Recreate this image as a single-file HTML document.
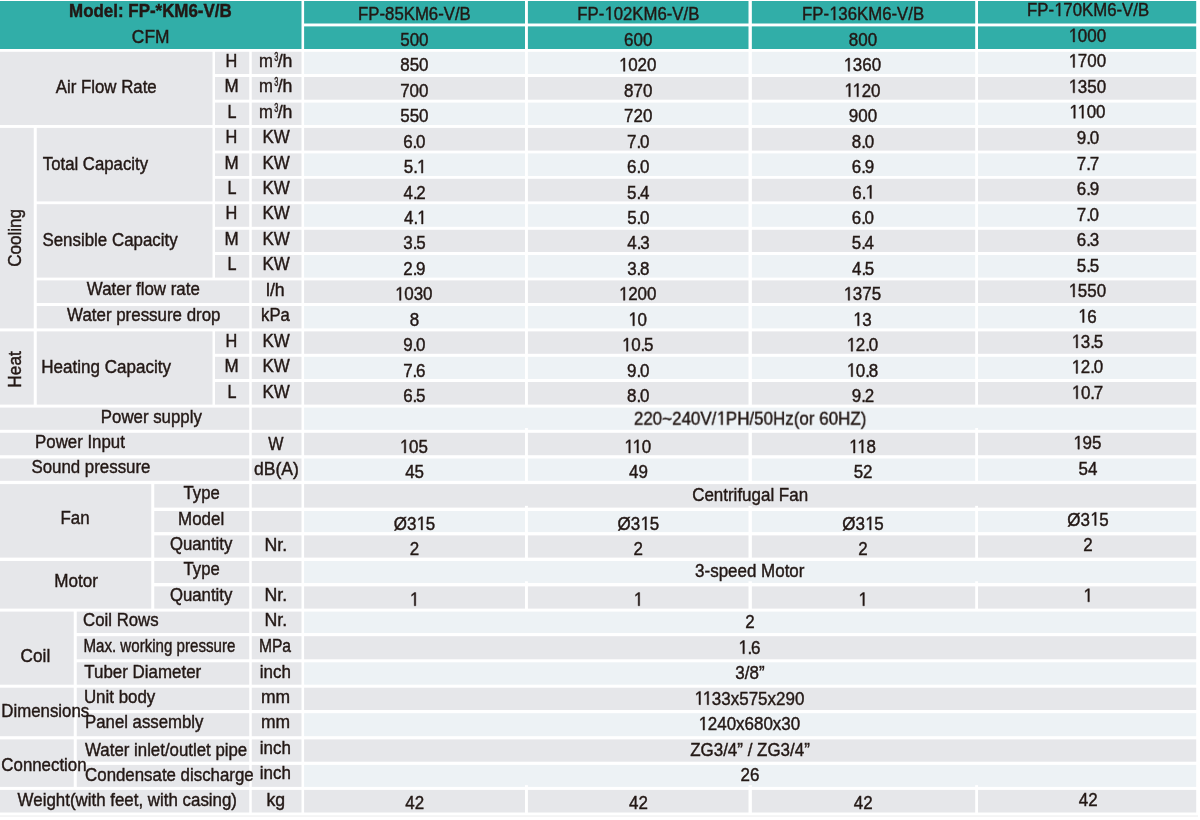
<!DOCTYPE html>
<html lang="en"><head><meta charset="utf-8"><title>FP-*KM6-V/B specifications</title>
<style>
html,body{margin:0;padding:0;background:#fff;}
body{width:1200px;height:820px;overflow:hidden;}
svg{display:block;will-change:transform;}
text{font-family:"Liberation Sans",sans-serif;}
text,path{fill:#231815;stroke:#231815;stroke-width:0.45px;}
.b{font-weight:bold;}
</style></head>
<body>
<svg width="1200" height="820" viewBox="0 0 1200 820">
<rect x="0" y="0" width="1200" height="820" fill="#fff"/>
<g>
<rect x="0.00" y="1.00" width="301.50" height="48.00" fill="#31aea8"/>
<rect x="304.10" y="1.00" width="220.90" height="22.50" fill="#31aea8"/>
<rect x="527.90" y="1.00" width="220.60" height="22.50" fill="#31aea8"/>
<rect x="751.85" y="1.00" width="223.35" height="22.50" fill="#31aea8"/>
<rect x="978.00" y="1.00" width="218.20" height="22.50" fill="#31aea8"/>
<rect x="304.10" y="26.40" width="220.90" height="22.60" fill="#31aea8"/>
<rect x="527.90" y="26.40" width="220.60" height="22.60" fill="#31aea8"/>
<rect x="751.85" y="26.40" width="223.35" height="22.60" fill="#31aea8"/>
<rect x="978.00" y="26.40" width="218.20" height="22.60" fill="#31aea8"/>
<rect x="304.10" y="51.80" width="220.90" height="22.20" fill="#edf2f5"/>
<rect x="527.90" y="51.80" width="220.60" height="22.20" fill="#edf2f5"/>
<rect x="751.85" y="51.80" width="223.35" height="22.20" fill="#edf2f5"/>
<rect x="978.00" y="51.80" width="218.20" height="22.20" fill="#edf2f5"/>
<rect x="251.75" y="51.80" width="49.75" height="22.20" fill="#e6e7ea"/>
<rect x="304.10" y="77.00" width="220.90" height="22.70" fill="#e6e7ea"/>
<rect x="527.90" y="77.00" width="220.60" height="22.70" fill="#e6e7ea"/>
<rect x="751.85" y="77.00" width="223.35" height="22.70" fill="#e6e7ea"/>
<rect x="978.00" y="77.00" width="218.20" height="22.70" fill="#e6e7ea"/>
<rect x="251.75" y="77.00" width="49.75" height="22.70" fill="#e6e7ea"/>
<rect x="304.10" y="102.60" width="220.90" height="22.40" fill="#edf2f5"/>
<rect x="527.90" y="102.60" width="220.60" height="22.40" fill="#edf2f5"/>
<rect x="751.85" y="102.60" width="223.35" height="22.40" fill="#edf2f5"/>
<rect x="978.00" y="102.60" width="218.20" height="22.40" fill="#edf2f5"/>
<rect x="251.75" y="102.60" width="49.75" height="22.40" fill="#e6e7ea"/>
<rect x="304.10" y="127.90" width="220.90" height="22.70" fill="#e6e7ea"/>
<rect x="527.90" y="127.90" width="220.60" height="22.70" fill="#e6e7ea"/>
<rect x="751.85" y="127.90" width="223.35" height="22.70" fill="#e6e7ea"/>
<rect x="978.00" y="127.90" width="218.20" height="22.70" fill="#e6e7ea"/>
<rect x="251.75" y="127.90" width="49.75" height="22.70" fill="#e6e7ea"/>
<rect x="304.10" y="153.40" width="220.90" height="22.60" fill="#edf2f5"/>
<rect x="527.90" y="153.40" width="220.60" height="22.60" fill="#edf2f5"/>
<rect x="751.85" y="153.40" width="223.35" height="22.60" fill="#edf2f5"/>
<rect x="978.00" y="153.40" width="218.20" height="22.60" fill="#edf2f5"/>
<rect x="251.75" y="153.40" width="49.75" height="22.60" fill="#e6e7ea"/>
<rect x="304.10" y="178.80" width="220.90" height="22.60" fill="#e6e7ea"/>
<rect x="527.90" y="178.80" width="220.60" height="22.60" fill="#e6e7ea"/>
<rect x="751.85" y="178.80" width="223.35" height="22.60" fill="#e6e7ea"/>
<rect x="978.00" y="178.80" width="218.20" height="22.60" fill="#e6e7ea"/>
<rect x="251.75" y="178.80" width="49.75" height="22.60" fill="#e6e7ea"/>
<rect x="304.10" y="204.20" width="220.90" height="22.60" fill="#edf2f5"/>
<rect x="527.90" y="204.20" width="220.60" height="22.60" fill="#edf2f5"/>
<rect x="751.85" y="204.20" width="223.35" height="22.60" fill="#edf2f5"/>
<rect x="978.00" y="204.20" width="218.20" height="22.60" fill="#edf2f5"/>
<rect x="251.75" y="204.20" width="49.75" height="22.60" fill="#e6e7ea"/>
<rect x="304.10" y="229.80" width="220.90" height="22.20" fill="#e6e7ea"/>
<rect x="527.90" y="229.80" width="220.60" height="22.20" fill="#e6e7ea"/>
<rect x="751.85" y="229.80" width="223.35" height="22.20" fill="#e6e7ea"/>
<rect x="978.00" y="229.80" width="218.20" height="22.20" fill="#e6e7ea"/>
<rect x="251.75" y="229.80" width="49.75" height="22.20" fill="#e6e7ea"/>
<rect x="304.10" y="255.00" width="220.90" height="22.60" fill="#edf2f5"/>
<rect x="527.90" y="255.00" width="220.60" height="22.60" fill="#edf2f5"/>
<rect x="751.85" y="255.00" width="223.35" height="22.60" fill="#edf2f5"/>
<rect x="978.00" y="255.00" width="218.20" height="22.60" fill="#edf2f5"/>
<rect x="251.75" y="255.00" width="49.75" height="22.60" fill="#e6e7ea"/>
<rect x="304.10" y="280.40" width="220.90" height="22.60" fill="#e6e7ea"/>
<rect x="527.90" y="280.40" width="220.60" height="22.60" fill="#e6e7ea"/>
<rect x="751.85" y="280.40" width="223.35" height="22.60" fill="#e6e7ea"/>
<rect x="978.00" y="280.40" width="218.20" height="22.60" fill="#e6e7ea"/>
<rect x="251.75" y="280.40" width="49.75" height="22.60" fill="#e6e7ea"/>
<rect x="304.10" y="306.00" width="220.90" height="22.40" fill="#edf2f5"/>
<rect x="527.90" y="306.00" width="220.60" height="22.40" fill="#edf2f5"/>
<rect x="751.85" y="306.00" width="223.35" height="22.40" fill="#edf2f5"/>
<rect x="978.00" y="306.00" width="218.20" height="22.40" fill="#edf2f5"/>
<rect x="251.75" y="306.00" width="49.75" height="22.40" fill="#e6e7ea"/>
<rect x="304.10" y="331.40" width="220.90" height="22.40" fill="#e6e7ea"/>
<rect x="527.90" y="331.40" width="220.60" height="22.40" fill="#e6e7ea"/>
<rect x="751.85" y="331.40" width="223.35" height="22.40" fill="#e6e7ea"/>
<rect x="978.00" y="331.40" width="218.20" height="22.40" fill="#e6e7ea"/>
<rect x="251.75" y="331.40" width="49.75" height="22.40" fill="#e6e7ea"/>
<rect x="304.10" y="356.80" width="220.90" height="22.20" fill="#edf2f5"/>
<rect x="527.90" y="356.80" width="220.60" height="22.20" fill="#edf2f5"/>
<rect x="751.85" y="356.80" width="223.35" height="22.20" fill="#edf2f5"/>
<rect x="978.00" y="356.80" width="218.20" height="22.20" fill="#edf2f5"/>
<rect x="251.75" y="356.80" width="49.75" height="22.20" fill="#e6e7ea"/>
<rect x="304.10" y="382.00" width="220.90" height="22.60" fill="#e6e7ea"/>
<rect x="527.90" y="382.00" width="220.60" height="22.60" fill="#e6e7ea"/>
<rect x="751.85" y="382.00" width="223.35" height="22.60" fill="#e6e7ea"/>
<rect x="978.00" y="382.00" width="218.20" height="22.60" fill="#e6e7ea"/>
<rect x="251.75" y="382.00" width="49.75" height="22.60" fill="#e6e7ea"/>
<rect x="304.10" y="407.60" width="892.10" height="22.20" fill="#edf2f5"/>
<rect x="251.75" y="407.60" width="49.75" height="22.20" fill="#e6e7ea"/>
<rect x="304.10" y="432.80" width="220.90" height="22.40" fill="#e6e7ea"/>
<rect x="527.90" y="432.80" width="220.60" height="22.40" fill="#e6e7ea"/>
<rect x="751.85" y="432.80" width="223.35" height="22.40" fill="#e6e7ea"/>
<rect x="978.00" y="432.80" width="218.20" height="22.40" fill="#e6e7ea"/>
<rect x="251.75" y="432.80" width="49.75" height="22.40" fill="#e6e7ea"/>
<rect x="304.10" y="458.50" width="220.90" height="22.30" fill="#edf2f5"/>
<rect x="527.90" y="458.50" width="220.60" height="22.30" fill="#edf2f5"/>
<rect x="751.85" y="458.50" width="223.35" height="22.30" fill="#edf2f5"/>
<rect x="978.00" y="458.50" width="218.20" height="22.30" fill="#edf2f5"/>
<rect x="251.75" y="458.50" width="49.75" height="22.30" fill="#e6e7ea"/>
<rect x="304.10" y="484.10" width="892.10" height="23.50" fill="#e6e7ea"/>
<rect x="251.75" y="484.10" width="49.75" height="23.50" fill="#e6e7ea"/>
<rect x="304.10" y="511.00" width="220.90" height="21.10" fill="#edf2f5"/>
<rect x="527.90" y="511.00" width="220.60" height="21.10" fill="#edf2f5"/>
<rect x="751.85" y="511.00" width="223.35" height="21.10" fill="#edf2f5"/>
<rect x="978.00" y="511.00" width="218.20" height="21.10" fill="#edf2f5"/>
<rect x="251.75" y="511.00" width="49.75" height="21.10" fill="#e6e7ea"/>
<rect x="304.10" y="535.40" width="220.90" height="22.20" fill="#e6e7ea"/>
<rect x="527.90" y="535.40" width="220.60" height="22.20" fill="#e6e7ea"/>
<rect x="751.85" y="535.40" width="223.35" height="22.20" fill="#e6e7ea"/>
<rect x="978.00" y="535.40" width="218.20" height="22.20" fill="#e6e7ea"/>
<rect x="251.75" y="535.40" width="49.75" height="22.20" fill="#e6e7ea"/>
<rect x="304.10" y="561.00" width="892.10" height="22.00" fill="#edf2f5"/>
<rect x="251.75" y="561.00" width="49.75" height="22.00" fill="#e6e7ea"/>
<rect x="304.10" y="586.40" width="220.90" height="22.20" fill="#e6e7ea"/>
<rect x="527.90" y="586.40" width="220.60" height="22.20" fill="#e6e7ea"/>
<rect x="751.85" y="586.40" width="223.35" height="22.20" fill="#e6e7ea"/>
<rect x="978.00" y="586.40" width="218.20" height="22.20" fill="#e6e7ea"/>
<rect x="251.75" y="586.40" width="49.75" height="22.20" fill="#e6e7ea"/>
<rect x="304.10" y="611.60" width="892.10" height="21.40" fill="#edf2f5"/>
<rect x="251.75" y="611.60" width="49.75" height="21.40" fill="#e6e7ea"/>
<rect x="304.10" y="636.20" width="892.10" height="23.10" fill="#e6e7ea"/>
<rect x="251.75" y="636.20" width="49.75" height="23.10" fill="#e6e7ea"/>
<rect x="304.10" y="662.30" width="892.10" height="22.40" fill="#edf2f5"/>
<rect x="251.75" y="662.30" width="49.75" height="22.40" fill="#e6e7ea"/>
<rect x="304.10" y="687.70" width="892.10" height="22.30" fill="#e6e7ea"/>
<rect x="251.75" y="687.70" width="49.75" height="22.30" fill="#e6e7ea"/>
<rect x="304.10" y="713.20" width="892.10" height="23.00" fill="#edf2f5"/>
<rect x="251.75" y="713.20" width="49.75" height="23.00" fill="#e6e7ea"/>
<rect x="304.10" y="739.40" width="892.10" height="22.30" fill="#e6e7ea"/>
<rect x="251.75" y="739.40" width="49.75" height="22.30" fill="#e6e7ea"/>
<rect x="304.10" y="764.90" width="892.10" height="22.00" fill="#edf2f5"/>
<rect x="251.75" y="764.90" width="49.75" height="22.00" fill="#e6e7ea"/>
<rect x="304.10" y="789.90" width="220.90" height="22.60" fill="#e6e7ea"/>
<rect x="527.90" y="789.90" width="220.60" height="22.60" fill="#e6e7ea"/>
<rect x="751.85" y="789.90" width="223.35" height="22.60" fill="#e6e7ea"/>
<rect x="978.00" y="789.90" width="218.20" height="22.60" fill="#e6e7ea"/>
<rect x="251.75" y="789.90" width="49.75" height="22.60" fill="#e6e7ea"/>
<rect x="525.00" y="428.05" width="2.90" height="2.05" fill="#fff"/>
<rect x="748.50" y="428.05" width="3.35" height="2.05" fill="#fff"/>
<rect x="975.20" y="428.05" width="2.80" height="2.05" fill="#fff"/>
<rect x="525.00" y="505.85" width="2.90" height="2.05" fill="#fff"/>
<rect x="748.50" y="505.85" width="3.35" height="2.05" fill="#fff"/>
<rect x="975.20" y="505.85" width="2.80" height="2.05" fill="#fff"/>
<rect x="525.00" y="581.25" width="2.90" height="2.05" fill="#fff"/>
<rect x="748.50" y="581.25" width="3.35" height="2.05" fill="#fff"/>
<rect x="975.20" y="581.25" width="2.80" height="2.05" fill="#fff"/>
<rect x="525.00" y="785.15" width="2.90" height="2.05" fill="#fff"/>
<rect x="748.50" y="785.15" width="3.35" height="2.05" fill="#fff"/>
<rect x="975.20" y="785.15" width="2.80" height="2.05" fill="#fff"/>
<rect x="0.00" y="51.80" width="212.50" height="73.20" fill="#e6e7ea"/>
<rect x="215.00" y="51.80" width="34.25" height="22.20" fill="#e6e7ea"/>
<rect x="215.00" y="77.00" width="34.25" height="22.70" fill="#e6e7ea"/>
<rect x="215.00" y="102.60" width="34.25" height="22.40" fill="#e6e7ea"/>
<rect x="0.00" y="127.90" width="33.75" height="200.50" fill="#e6e7ea"/>
<rect x="36.75" y="127.90" width="175.75" height="73.50" fill="#e6e7ea"/>
<rect x="36.75" y="204.20" width="175.75" height="73.40" fill="#e6e7ea"/>
<rect x="215.00" y="127.90" width="34.25" height="22.70" fill="#e6e7ea"/>
<rect x="215.00" y="153.40" width="34.25" height="22.60" fill="#e6e7ea"/>
<rect x="215.00" y="178.80" width="34.25" height="22.60" fill="#e6e7ea"/>
<rect x="215.00" y="204.20" width="34.25" height="22.60" fill="#e6e7ea"/>
<rect x="215.00" y="229.80" width="34.25" height="22.20" fill="#e6e7ea"/>
<rect x="215.00" y="255.00" width="34.25" height="22.60" fill="#e6e7ea"/>
<rect x="36.75" y="280.40" width="212.50" height="22.60" fill="#e6e7ea"/>
<rect x="36.75" y="306.00" width="212.50" height="22.40" fill="#e6e7ea"/>
<rect x="0.00" y="331.40" width="33.75" height="73.20" fill="#e6e7ea"/>
<rect x="36.75" y="331.40" width="175.75" height="73.20" fill="#e6e7ea"/>
<rect x="215.00" y="331.40" width="34.25" height="22.40" fill="#e6e7ea"/>
<rect x="215.00" y="356.80" width="34.25" height="22.20" fill="#e6e7ea"/>
<rect x="215.00" y="382.00" width="34.25" height="22.60" fill="#e6e7ea"/>
<rect x="0.00" y="407.60" width="249.25" height="22.20" fill="#e6e7ea"/>
<rect x="0.00" y="432.80" width="249.25" height="22.40" fill="#e6e7ea"/>
<rect x="0.00" y="458.50" width="249.25" height="22.30" fill="#e6e7ea"/>
<rect x="0.00" y="789.90" width="249.25" height="22.60" fill="#e6e7ea"/>
<rect x="0.00" y="484.10" width="151.25" height="73.50" fill="#e6e7ea"/>
<rect x="0.00" y="561.00" width="151.25" height="47.60" fill="#e6e7ea"/>
<rect x="154.25" y="484.10" width="95.00" height="23.50" fill="#e6e7ea"/>
<rect x="154.25" y="511.00" width="95.00" height="21.10" fill="#e6e7ea"/>
<rect x="154.25" y="535.40" width="95.00" height="22.20" fill="#e6e7ea"/>
<rect x="154.25" y="561.00" width="95.00" height="22.00" fill="#e6e7ea"/>
<rect x="154.25" y="586.40" width="95.00" height="22.20" fill="#e6e7ea"/>
<rect x="0.00" y="611.60" width="73.75" height="73.10" fill="#e6e7ea"/>
<rect x="0.00" y="687.70" width="73.75" height="48.50" fill="#e6e7ea"/>
<rect x="0.00" y="739.40" width="73.75" height="47.50" fill="#e6e7ea"/>
<rect x="76.75" y="611.60" width="172.50" height="21.40" fill="#e6e7ea"/>
<rect x="76.75" y="636.20" width="172.50" height="23.10" fill="#e6e7ea"/>
<rect x="76.75" y="662.30" width="172.50" height="22.40" fill="#e6e7ea"/>
<rect x="76.75" y="687.70" width="172.50" height="22.30" fill="#e6e7ea"/>
<rect x="76.75" y="713.20" width="172.50" height="23.00" fill="#e6e7ea"/>
<rect x="76.75" y="739.40" width="172.50" height="22.30" fill="#e6e7ea"/>
<rect x="76.75" y="764.90" width="172.50" height="22.00" fill="#e6e7ea"/>
</g>
<rect x="0" y="815.4" width="1198" height="1.3" fill="#eff0f1"/>
<g opacity="0.999" font-size="19.2">
<text class="b" transform="translate(69.06 17.00) scale(0.8819 1)">Model: FP-*KM6-V/B</text>
<text transform="translate(131.83 43.00) scale(0.9059 1)">CFM</text>
<text transform="translate(55.66 93.00) scale(0.8777 1)">Air Flow Rate</text>
<text transform="translate(42.82 170.00) scale(0.8731 1)">Total Capacity</text>
<text transform="translate(42.44 245.50) scale(0.8810 1)">Sensible Capacity</text>
<text transform="translate(86.87 295.00) scale(0.8796 1)">Water flow rate</text>
<text transform="translate(67.12 321.25) scale(0.8799 1)">Water pressure drop</text>
<text transform="translate(41.29 373.00) scale(0.8878 1)">Heating Capacity</text>
<text transform="translate(100.81 423.00) scale(0.8766 1)">Power supply</text>
<text transform="translate(35.06 448.00) scale(0.8769 1)">Power Input</text>
<text transform="translate(31.44 473.00) scale(0.8785 1)">Sound pressure</text>
<text transform="translate(60.56 523.75) scale(0.8796 1)">Fan</text>
<text transform="translate(54.29 587.00) scale(0.8923 1)">Motor</text>
<text transform="translate(183.57 498.75) scale(0.8695 1)">Type</text>
<text transform="translate(178.05 524.50) scale(0.8819 1)">Model</text>
<text transform="translate(169.90 550.00) scale(0.8730 1)">Quantity</text>
<text transform="translate(183.57 575.00) scale(0.8695 1)">Type</text>
<text transform="translate(169.90 600.75) scale(0.8730 1)">Quantity</text>
<text transform="translate(20.59 662.00) scale(0.8956 1)">Coil</text>
<text transform="translate(1.31 717.00) scale(0.8754 1)">Dimensions</text>
<text transform="translate(1.36 770.75) scale(0.8783 1)">Connection</text>
<text transform="translate(83.11 626.25) scale(0.8742 1)">Coil Rows</text>
<text transform="translate(83.45 652.00) scale(0.7871 1)">Max. working pressure</text>
<text transform="translate(84.32 678.00) scale(0.8818 1)">Tuber Diameter</text>
<text transform="translate(83.89 702.50) scale(0.8808 1)">Unit body</text>
<text transform="translate(85.06 727.50) scale(0.8744 1)">Panel assembly</text>
<text transform="translate(85.12 755.50) scale(0.8765 1)">Water inlet/outlet pipe</text>
<text transform="translate(85.11 780.50) scale(0.8780 1)">Condensate discharge</text>
<text transform="translate(17.62 805.80) scale(0.8802 1)">Weight(with feet, with casing)</text>
<text transform="translate(21.25 266.86) rotate(-90) scale(0.8915 1)">Cooling</text>
<text transform="translate(21.30 387.68) rotate(-90) scale(0.9013 1)">Heat</text>
<text transform="translate(225.60 66.70) scale(0.8501 1)">H</text>
<text transform="translate(224.55 92.15) scale(0.8856 1)">M</text>
<text transform="translate(227.62 117.60) scale(0.8404 1)">L</text>
<text transform="translate(225.60 143.05) scale(0.8501 1)">H</text>
<text transform="translate(224.55 168.50) scale(0.8856 1)">M</text>
<text transform="translate(227.62 193.95) scale(0.8404 1)">L</text>
<text transform="translate(225.60 219.40) scale(0.8501 1)">H</text>
<text transform="translate(224.55 244.85) scale(0.8856 1)">M</text>
<text transform="translate(227.62 270.30) scale(0.8404 1)">L</text>
<text transform="translate(225.60 346.65) scale(0.8501 1)">H</text>
<text transform="translate(224.55 372.10) scale(0.8856 1)">M</text>
<text transform="translate(227.62 397.55) scale(0.8404 1)">L</text>
<text transform="translate(258.97 66.70) scale(0.8705 1)">m</text>
<text font-size="12.6" transform="translate(274.22 60.70) scale(0.5848 1)">3</text>
<text transform="translate(277.70 66.70) scale(0.9229 1)">/h</text>
<text transform="translate(258.97 92.15) scale(0.8705 1)">m</text>
<text font-size="12.6" transform="translate(274.22 86.15) scale(0.5848 1)">3</text>
<text transform="translate(277.70 92.15) scale(0.9229 1)">/h</text>
<text transform="translate(258.97 117.60) scale(0.8705 1)">m</text>
<text font-size="12.6" transform="translate(274.22 111.60) scale(0.5848 1)">3</text>
<text transform="translate(277.70 117.60) scale(0.9229 1)">/h</text>
<text transform="translate(262.55 143.05) scale(0.8829 1)">KW</text>
<text transform="translate(262.55 168.50) scale(0.8829 1)">KW</text>
<text transform="translate(262.55 193.95) scale(0.8829 1)">KW</text>
<text transform="translate(262.55 219.40) scale(0.8829 1)">KW</text>
<text transform="translate(262.55 244.85) scale(0.8829 1)">KW</text>
<text transform="translate(262.55 270.30) scale(0.8829 1)">KW</text>
<text transform="translate(262.55 346.65) scale(0.8829 1)">KW</text>
<text transform="translate(262.55 372.10) scale(0.8829 1)">KW</text>
<text transform="translate(262.55 397.55) scale(0.8829 1)">KW</text>
<text transform="translate(266.00 295.75) scale(0.9231 1)">l/h</text>
<text transform="translate(261.07 321.25) scale(0.8686 1)">kPa</text>
<text transform="translate(268.37 449.50) scale(0.8411 1)">W</text>
<text transform="translate(253.95 474.50) scale(0.9162 1)">dB(A)</text>
<text transform="translate(264.49 550.50) scale(0.9238 1)">Nr.</text>
<text transform="translate(264.49 601.00) scale(0.9238 1)">Nr.</text>
<text transform="translate(264.49 626.25) scale(0.9238 1)">Nr.</text>
<text transform="translate(258.91 652.00) scale(0.8146 1)">MPa</text>
<text transform="translate(259.80 677.50) scale(0.8839 1)">inch</text>
<text transform="translate(261.02 702.50) scale(0.9125 1)">mm</text>
<text transform="translate(261.02 728.00) scale(0.9125 1)">mm</text>
<text transform="translate(259.80 753.70) scale(0.8839 1)">inch</text>
<text transform="translate(259.80 778.75) scale(0.8839 1)">inch</text>
<text transform="translate(266.51 805.80) scale(0.9206 1)">kg</text>
<text transform="translate(358.08 20.00) scale(0.8730 1)">FP-85KM6-V/B</text>
<g transform="translate(577.34 20.00) scale(0.8730 1)"><text x="0.00 11.73 24.53 41.61 52.28 62.96 75.77 91.76 102.44 108.83 121.64 126.97">FP-02KM6-V/B</text><path d="M36.27 0.00L36.27 -11.60L33.29 -9.47L33.29 -11.06L36.41 -13.21L37.97 -13.21L37.97 0.00Z"/></g>
<g transform="translate(802.04 20.00) scale(0.8730 1)"><text x="0.00 11.73 24.53 41.61 52.28 62.96 75.77 91.76 102.44 108.83 121.64 126.97">FP-36KM6-V/B</text><path d="M36.27 0.00L36.27 -11.60L33.29 -9.47L33.29 -11.06L36.41 -13.21L37.97 -13.21L37.97 0.00Z"/></g>
<g transform="translate(1027.04 16.10) scale(0.8730 1)"><text x="0.00 11.73 24.53 41.61 52.28 62.96 75.77 91.76 102.44 108.83 121.64 126.97">FP-70KM6-V/B</text><path d="M36.27 0.00L36.27 -11.60L33.29 -9.47L33.29 -11.06L36.41 -13.21L37.97 -13.21L37.97 0.00Z"/></g>
<text transform="translate(400.23 45.85) scale(0.8836 1)">500</text>
<text transform="translate(624.05 45.85) scale(0.8836 1)">600</text>
<text transform="translate(848.81 45.85) scale(0.8836 1)">800</text>
<g transform="translate(1068.42 41.95) scale(0.8836 1)"><text x="10.68 21.36 32.03">000</text><path d="M5.34 0.00L5.34 -11.60L2.36 -9.47L2.36 -11.06L5.48 -13.21L7.04 -13.21L7.04 0.00Z"/></g>
<text transform="translate(400.21 71.30) scale(0.8836 1)">850</text>
<g transform="translate(618.72 71.30) scale(0.8836 1)"><text x="10.68 21.36 32.03">020</text><path d="M5.34 0.00L5.34 -11.60L2.36 -9.47L2.36 -11.06L5.48 -13.21L7.04 -13.21L7.04 0.00Z"/></g>
<g transform="translate(843.42 71.30) scale(0.8836 1)"><text x="10.68 21.36 32.03">360</text><path d="M5.34 0.00L5.34 -11.60L2.36 -9.47L2.36 -11.06L5.48 -13.21L7.04 -13.21L7.04 0.00Z"/></g>
<g transform="translate(1068.42 67.40) scale(0.8836 1)"><text x="10.68 21.36 32.03">700</text><path d="M5.34 0.00L5.34 -11.60L2.36 -9.47L2.36 -11.06L5.48 -13.21L7.04 -13.21L7.04 0.00Z"/></g>
<text transform="translate(400.13 96.75) scale(0.8836 1)">700</text>
<text transform="translate(624.11 96.75) scale(0.8836 1)">870</text>
<g transform="translate(844.05 96.75) scale(0.8836 1)"><text x="19.93 30.61">20</text><path d="M5.34 0.00L5.34 -11.60L2.36 -9.47L2.36 -11.06L5.48 -13.21L7.04 -13.21L7.04 0.00Z"/><path d="M14.60 0.00L14.60 -11.60L11.62 -9.47L11.62 -11.06L14.74 -13.21L16.29 -13.21L16.29 0.00Z"/></g>
<g transform="translate(1068.42 92.85) scale(0.8836 1)"><text x="10.68 21.36 32.03">350</text><path d="M5.34 0.00L5.34 -11.60L2.36 -9.47L2.36 -11.06L5.48 -13.21L7.04 -13.21L7.04 0.00Z"/></g>
<text transform="translate(400.23 122.20) scale(0.8836 1)">550</text>
<text transform="translate(624.03 122.20) scale(0.8836 1)">720</text>
<text transform="translate(848.77 122.20) scale(0.8836 1)">900</text>
<g transform="translate(1069.05 118.30) scale(0.8836 1)"><text x="19.93 30.61">00</text><path d="M5.34 0.00L5.34 -11.60L2.36 -9.47L2.36 -11.06L5.48 -13.21L7.04 -13.21L7.04 0.00Z"/><path d="M14.60 0.00L14.60 -11.60L11.62 -9.47L11.62 -11.06L14.74 -13.21L16.29 -13.21L16.29 0.00Z"/></g>
<g transform="translate(403.14 147.65) scale(0.8836 1)"><text x="0.00 10.68 14.57">6.0</text></g>
<g transform="translate(627.04 147.65) scale(0.8836 1)"><text x="0.00 10.68 14.57">7.0</text></g>
<g transform="translate(851.81 147.65) scale(0.8836 1)"><text x="0.00 10.68 14.57">8.0</text></g>
<g transform="translate(1076.78 144.35) scale(0.8836 1)"><text x="0.00 10.68 14.57">9.0</text></g>
<g transform="translate(403.81 173.10) scale(0.8836 1)"><text x="0.00 10.68">5.</text><path d="M19.92 0.00L19.92 -11.60L16.93 -9.47L16.93 -11.06L20.06 -13.21L21.61 -13.21L21.61 0.00Z"/></g>
<g transform="translate(627.04 173.10) scale(0.8836 1)"><text x="0.00 10.68 14.57">6.0</text></g>
<g transform="translate(851.81 173.10) scale(0.8836 1)"><text x="0.00 10.68 14.57">6.9</text></g>
<g transform="translate(1076.84 169.80) scale(0.8836 1)"><text x="0.00 10.68 14.57">7.7</text></g>
<g transform="translate(403.48 198.55) scale(0.8836 1)"><text x="0.00 10.68 14.57">4.2</text></g>
<g transform="translate(627.05 198.55) scale(0.8836 1)"><text x="0.00 10.68 14.57">5.4</text></g>
<g transform="translate(852.32 198.55) scale(0.8836 1)"><text x="0.00 10.68">6.</text><path d="M19.92 0.00L19.92 -11.60L16.93 -9.47L16.93 -11.06L20.06 -13.21L21.61 -13.21L21.61 0.00Z"/></g>
<g transform="translate(1076.81 195.25) scale(0.8836 1)"><text x="0.00 10.68 14.57">6.9</text></g>
<g transform="translate(403.96 224.00) scale(0.8836 1)"><text x="0.00 10.68">4.</text><path d="M19.92 0.00L19.92 -11.60L16.93 -9.47L16.93 -11.06L20.06 -13.21L21.61 -13.21L21.61 0.00Z"/></g>
<g transform="translate(627.14 224.00) scale(0.8836 1)"><text x="0.00 10.68 14.57">5.0</text></g>
<g transform="translate(851.74 224.00) scale(0.8836 1)"><text x="0.00 10.68 14.57">6.0</text></g>
<g transform="translate(1076.74 220.70) scale(0.8836 1)"><text x="0.00 10.68 14.57">7.0</text></g>
<g transform="translate(403.28 249.45) scale(0.8836 1)"><text x="0.00 10.68 14.57">3.5</text></g>
<g transform="translate(627.32 249.45) scale(0.8836 1)"><text x="0.00 10.68 14.57">4.3</text></g>
<g transform="translate(851.75 249.45) scale(0.8836 1)"><text x="0.00 10.68 14.57">5.4</text></g>
<g transform="translate(1076.79 246.15) scale(0.8836 1)"><text x="0.00 10.68 14.57">6.3</text></g>
<g transform="translate(403.22 274.90) scale(0.8836 1)"><text x="0.00 10.68 14.57">2.9</text></g>
<g transform="translate(627.19 274.90) scale(0.8836 1)"><text x="0.00 10.68 14.57">3.8</text></g>
<g transform="translate(852.01 274.90) scale(0.8836 1)"><text x="0.00 10.68 14.57">4.5</text></g>
<g transform="translate(1076.86 271.60) scale(0.8836 1)"><text x="0.00 10.68 14.57">5.5</text></g>
<g transform="translate(394.82 300.35) scale(0.8836 1)"><text x="10.68 21.36 32.03">030</text><path d="M5.34 0.00L5.34 -11.60L2.36 -9.47L2.36 -11.06L5.48 -13.21L7.04 -13.21L7.04 0.00Z"/></g>
<g transform="translate(618.72 300.35) scale(0.8836 1)"><text x="10.68 21.36 32.03">200</text><path d="M5.34 0.00L5.34 -11.60L2.36 -9.47L2.36 -11.06L5.48 -13.21L7.04 -13.21L7.04 0.00Z"/></g>
<g transform="translate(843.44 300.35) scale(0.8836 1)"><text x="10.68 21.36 32.03">375</text><path d="M5.34 0.00L5.34 -11.60L2.36 -9.47L2.36 -11.06L5.48 -13.21L7.04 -13.21L7.04 0.00Z"/></g>
<g transform="translate(1068.42 297.05) scale(0.8836 1)"><text x="10.68 21.36 32.03">550</text><path d="M5.34 0.00L5.34 -11.60L2.36 -9.47L2.36 -11.06L5.48 -13.21L7.04 -13.21L7.04 0.00Z"/></g>
<text transform="translate(409.69 325.80) scale(0.8836 1)">8</text>
<g transform="translate(628.15 325.80) scale(0.8836 1)"><text x="10.68">0</text><path d="M5.34 0.00L5.34 -11.60L2.36 -9.47L2.36 -11.06L5.48 -13.21L7.04 -13.21L7.04 0.00Z"/></g>
<g transform="translate(852.89 325.80) scale(0.8836 1)"><text x="10.68">3</text><path d="M5.34 0.00L5.34 -11.60L2.36 -9.47L2.36 -11.06L5.48 -13.21L7.04 -13.21L7.04 0.00Z"/></g>
<g transform="translate(1077.89 322.50) scale(0.8836 1)"><text x="10.68">6</text><path d="M5.34 0.00L5.34 -11.60L2.36 -9.47L2.36 -11.06L5.48 -13.21L7.04 -13.21L7.04 0.00Z"/></g>
<g transform="translate(403.18 351.25) scale(0.8836 1)"><text x="0.00 10.68 14.57">9.0</text></g>
<g transform="translate(621.74 351.25) scale(0.8836 1)"><text x="10.68 21.36 25.25">0.5</text><path d="M5.34 0.00L5.34 -11.60L2.36 -9.47L2.36 -11.06L5.48 -13.21L7.04 -13.21L7.04 0.00Z"/></g>
<g transform="translate(846.41 351.25) scale(0.8836 1)"><text x="10.68 21.36 25.25">2.0</text><path d="M5.34 0.00L5.34 -11.60L2.36 -9.47L2.36 -11.06L5.48 -13.21L7.04 -13.21L7.04 0.00Z"/></g>
<g transform="translate(1071.44 347.95) scale(0.8836 1)"><text x="10.68 21.36 25.25">3.5</text><path d="M5.34 0.00L5.34 -11.60L2.36 -9.47L2.36 -11.06L5.48 -13.21L7.04 -13.21L7.04 0.00Z"/></g>
<g transform="translate(403.18 376.70) scale(0.8836 1)"><text x="0.00 10.68 14.57">7.6</text></g>
<g transform="translate(627.08 376.70) scale(0.8836 1)"><text x="0.00 10.68 14.57">9.0</text></g>
<g transform="translate(846.45 376.70) scale(0.8836 1)"><text x="10.68 21.36 25.25">0.8</text><path d="M5.34 0.00L5.34 -11.60L2.36 -9.47L2.36 -11.06L5.48 -13.21L7.04 -13.21L7.04 0.00Z"/></g>
<g transform="translate(1071.41 373.40) scale(0.8836 1)"><text x="10.68 21.36 25.25">2.0</text><path d="M5.34 0.00L5.34 -11.60L2.36 -9.47L2.36 -11.06L5.48 -13.21L7.04 -13.21L7.04 0.00Z"/></g>
<g transform="translate(403.17 402.15) scale(0.8836 1)"><text x="0.00 10.68 14.57">6.5</text></g>
<g transform="translate(627.11 402.15) scale(0.8836 1)"><text x="0.00 10.68 14.57">8.0</text></g>
<g transform="translate(851.87 402.15) scale(0.8836 1)"><text x="0.00 10.68 14.57">9.2</text></g>
<g transform="translate(1071.51 398.85) scale(0.8836 1)"><text x="10.68 21.36 25.25">0.7</text><path d="M5.34 0.00L5.34 -11.60L2.36 -9.47L2.36 -11.06L5.48 -13.21L7.04 -13.21L7.04 0.00Z"/></g>
<g transform="translate(399.56 453.05) scale(0.8836 1)"><text x="10.68 21.36">05</text><path d="M5.34 0.00L5.34 -11.60L2.36 -9.47L2.36 -11.06L5.48 -13.21L7.04 -13.21L7.04 0.00Z"/></g>
<g transform="translate(624.06 453.05) scale(0.8836 1)"><text x="19.93">0</text><path d="M5.34 0.00L5.34 -11.60L2.36 -9.47L2.36 -11.06L5.48 -13.21L7.04 -13.21L7.04 0.00Z"/><path d="M14.60 0.00L14.60 -11.60L11.62 -9.47L11.62 -11.06L14.74 -13.21L16.29 -13.21L16.29 0.00Z"/></g>
<g transform="translate(848.80 453.05) scale(0.8836 1)"><text x="19.93">8</text><path d="M5.34 0.00L5.34 -11.60L2.36 -9.47L2.36 -11.06L5.48 -13.21L7.04 -13.21L7.04 0.00Z"/><path d="M14.60 0.00L14.60 -11.60L11.62 -9.47L11.62 -11.06L14.74 -13.21L16.29 -13.21L16.29 0.00Z"/></g>
<g transform="translate(1073.16 449.15) scale(0.8836 1)"><text x="10.68 21.36">95</text><path d="M5.34 0.00L5.34 -11.60L2.36 -9.47L2.36 -11.06L5.48 -13.21L7.04 -13.21L7.04 0.00Z"/></g>
<text transform="translate(405.13 477.90) scale(0.8836 1)">45</text>
<text transform="translate(629.07 477.90) scale(0.8836 1)">49</text>
<text transform="translate(853.67 477.90) scale(0.8836 1)">52</text>
<text transform="translate(1078.48 474.60) scale(0.8836 1)">54</text>
<g transform="translate(393.71 529.90) scale(0.8836 1)"><text x="0.00 14.93 36.29">Ø35</text><path d="M30.96 0.00L30.96 -11.60L27.97 -9.47L27.97 -11.06L31.10 -13.21L32.65 -13.21L32.65 0.00Z"/></g>
<g transform="translate(617.61 529.90) scale(0.8836 1)"><text x="0.00 14.93 36.29">Ø35</text><path d="M30.96 0.00L30.96 -11.60L27.97 -9.47L27.97 -11.06L31.10 -13.21L32.65 -13.21L32.65 0.00Z"/></g>
<g transform="translate(842.31 529.90) scale(0.8836 1)"><text x="0.00 14.93 36.29">Ø35</text><path d="M30.96 0.00L30.96 -11.60L27.97 -9.47L27.97 -11.06L31.10 -13.21L32.65 -13.21L32.65 0.00Z"/></g>
<g transform="translate(1067.31 525.50) scale(0.8836 1)"><text x="0.00 14.93 36.29">Ø35</text><path d="M30.96 0.00L30.96 -11.60L27.97 -9.47L27.97 -11.06L31.10 -13.21L32.65 -13.21L32.65 0.00Z"/></g>
<text transform="translate(409.69 554.85) scale(0.8836 1)">2</text>
<text transform="translate(633.59 554.85) scale(0.8836 1)">2</text>
<text transform="translate(858.29 554.85) scale(0.8836 1)">2</text>
<text transform="translate(1083.29 550.95) scale(0.8836 1)">2</text>
<g transform="translate(409.55 605.75) scale(0.8836 1)"><path d="M5.34 0.00L5.34 -11.60L2.36 -9.47L2.36 -11.06L5.48 -13.21L7.04 -13.21L7.04 0.00Z"/></g>
<g transform="translate(633.45 605.75) scale(0.8836 1)"><path d="M5.34 0.00L5.34 -11.60L2.36 -9.47L2.36 -11.06L5.48 -13.21L7.04 -13.21L7.04 0.00Z"/></g>
<g transform="translate(858.15 605.75) scale(0.8836 1)"><path d="M5.34 0.00L5.34 -11.60L2.36 -9.47L2.36 -11.06L5.48 -13.21L7.04 -13.21L7.04 0.00Z"/></g>
<g transform="translate(1083.15 601.85) scale(0.8836 1)"><path d="M5.34 0.00L5.34 -11.60L2.36 -9.47L2.36 -11.06L5.48 -13.21L7.04 -13.21L7.04 0.00Z"/></g>
<text transform="translate(405.22 809.35) scale(0.8836 1)">42</text>
<text transform="translate(629.12 809.35) scale(0.8836 1)">42</text>
<text transform="translate(853.82 809.35) scale(0.8836 1)">42</text>
<text transform="translate(1078.82 805.75) scale(0.8836 1)">42</text>
<g transform="translate(633.87 424.70) scale(0.8836 1)"><text x="0.00 10.68 21.36 32.03 43.25 53.92 64.60 75.28 88.09 104.10 116.91 130.77 136.11 146.78 157.46 171.33 180.93 187.32 198.00 204.39 209.73 220.41 231.08 244.95 256.68">220~240V/PH/50Hz(or 60HZ)</text><path d="M98.77 0.00L98.77 -11.60L95.78 -9.47L95.78 -11.06L98.91 -13.21L100.46 -13.21L100.46 0.00Z"/></g>
<text transform="translate(692.15 501.05) scale(0.8836 1)">Centrifugal Fan</text>
<text transform="translate(695.11 577.40) scale(0.8836 1)">3-speed Motor</text>
<text transform="translate(745.29 628.30) scale(0.8836 1)">2</text>
<g transform="translate(738.17 653.75) scale(0.8836 1)"><text x="10.68 14.57">.6</text><path d="M5.34 0.00L5.34 -11.60L2.36 -9.47L2.36 -11.06L5.48 -13.21L7.04 -13.21L7.04 0.00Z"/></g>
<text transform="translate(735.37 679.20) scale(0.8836 1)">3/8”</text>
<g transform="translate(694.26 704.65) scale(0.8836 1)"><text x="19.93 30.61 41.29 50.89 61.57 72.24 82.92 92.52 103.20 113.88">33x575x290</text><path d="M5.34 0.00L5.34 -11.60L2.36 -9.47L2.36 -11.06L5.48 -13.21L7.04 -13.21L7.04 0.00Z"/><path d="M14.60 0.00L14.60 -11.60L11.62 -9.47L11.62 -11.06L14.74 -13.21L16.29 -13.21L16.29 0.00Z"/></g>
<g transform="translate(698.34 730.10) scale(0.8836 1)"><text x="10.68 21.36 32.03 42.71 52.31 62.99 73.67 84.35 93.95 104.62">240x680x30</text><path d="M5.34 0.00L5.34 -11.60L2.36 -9.47L2.36 -11.06L5.48 -13.21L7.04 -13.21L7.04 0.00Z"/></g>
<text transform="translate(690.15 755.55) scale(0.8836 1)">ZG3/4” / ZG3/4”</text>
<text transform="translate(740.52 781.00) scale(0.8836 1)">26</text>
</g>
</svg>
</body></html>
